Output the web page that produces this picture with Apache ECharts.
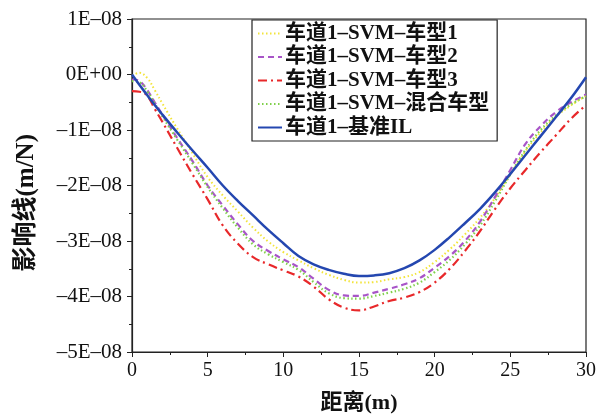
<!DOCTYPE html>
<html>
<head>
<meta charset="utf-8">
<script src="https://cdn.jsdelivr.net/npm/echarts@6/dist/echarts.min.js"></script>
<style>html,body{margin:0;padding:0;background:#fff}#c{width:600px;height:414px}</style>
</head>
<body>
<div id="c"></div>
<script>
// distance along span (m)
const dist = [0,0.5,1,1.5,2,3,4,5,6,7,8,9,10,11,12,13,14,15,16,17,18,19,20,21,22,23,24,25,26,27,28,29,30];
// influence line values, in units of 1E-08 m/N
const svmType1 = [-0.02,0.03,-0.06,-0.28,-0.52,-0.98,-1.42,-1.85,-2.18,-2.47,-2.76,-3.01,-3.20,-3.35,-3.49,-3.61,-3.70,-3.75,-3.74,-3.69,-3.65,-3.56,-3.38,-3.15,-2.88,-2.58,-2.22,-1.80,-1.38,-1.04,-0.76,-0.56,-0.38];
const svmType2 = [-0.09,-0.12,-0.28,-0.50,-0.72,-1.15,-1.56,-2.00,-2.36,-2.70,-3.00,-3.18,-3.33,-3.47,-3.68,-3.88,-3.98,-3.99,-3.93,-3.86,-3.78,-3.67,-3.48,-3.27,-3.00,-2.65,-2.20,-1.72,-1.25,-0.93,-0.68,-0.50,-0.36];
const svmType3 = [-0.30,-0.31,-0.38,-0.62,-0.85,-1.33,-1.80,-2.25,-2.72,-3.05,-3.29,-3.42,-3.53,-3.64,-3.82,-4.05,-4.20,-4.25,-4.18,-4.08,-4.02,-3.92,-3.75,-3.50,-3.18,-2.82,-2.42,-2.05,-1.72,-1.40,-1.10,-0.80,-0.55];
const svmMixed = [-0.12,-0.14,-0.30,-0.52,-0.75,-1.18,-1.60,-2.03,-2.41,-2.76,-3.06,-3.24,-3.38,-3.52,-3.74,-3.94,-4.03,-4.04,-3.99,-3.93,-3.86,-3.75,-3.56,-3.34,-3.06,-2.72,-2.28,-1.80,-1.36,-1.00,-0.74,-0.54,-0.39];
const baseIL  = [0.00,-0.19,-0.37,-0.55,-0.72,-1.05,-1.37,-1.68,-2.00,-2.28,-2.54,-2.80,-3.04,-3.27,-3.42,-3.52,-3.59,-3.63,-3.62,-3.58,-3.49,-3.35,-3.16,-2.93,-2.68,-2.42,-2.12,-1.79,-1.45,-1.11,-0.77,-0.43,-0.05];
const seriesNames = ['车道1–SVM–车型1','车道1–SVM–车型2','车道1–SVM–车型3','车道1–SVM–混合车型','车道1–基准IL'];
const yTickValues = [-5,-4,-3,-2,-1,0,1];
const yTickLabels = ['–5E–08','–4E–08','–3E–08','–2E–08','–1E–08','0E+00','1E–08'];
const xTickValues = [0,5,10,15,20,25,30];
const xTitle = '距离(m)';
const yTitle = '影响线(m/N)';

const pair = arr => dist.map((d,i)=>[d, arr[i]]);
const serif = '"Liberation Serif","Noto Sans CJK SC",serif';
const styles = [
  {color:'#f2e43a', type:[1.5,2.5], width:2},
  {color:'#a855c8', type:[6,4], width:2.2},
  {color:'#e8282a', type:[9,4,2,4], width:2.2},
  {color:'#7fd04a', type:[1.5,2.5], width:2.2},
  {color:'#2447b0', type:'solid', width:2.5}
];
const dataSets = [svmType1, svmType2, svmType3, svmMixed, baseIL];

const chart = echarts.init(document.getElementById('c'), null, {renderer:'canvas'});
chart.setOption({
  animation:false,
  backgroundColor:'#fff',
  grid:{left:132,right:14,top:19,bottom:62,show:true,borderColor:'#222',borderWidth:1.2,
        backgroundColor:'transparent', containLabel:false, outerBoundsMode:'none'},
  legend:{
    orient:'vertical', left:252, top:20,
    backgroundColor:'#fff', borderColor:'#222', borderWidth:1.2,
    padding:[3,8,3,5], itemGap:2.5, itemWidth:24, itemHeight:16,
    itemStyle:{opacity:0},
    textStyle:{fontFamily:serif, fontSize:21, lineHeight:20, fontWeight:'bold', color:'#111', padding:[0,0,0,-2]},
    data:seriesNames
  },
  graphic:[{
    type:'text', left:14, top:134, rotation:Math.PI/2,
    style:{text:yTitle, font:'bold 25px "Liberation Serif","Noto Sans CJK SC",serif', fill:'#111'}
  }],
  xAxis:{
    type:'value', min:0, max:30, interval:5,
    name:xTitle, nameLocation:'middle', nameGap:40,
    nameTextStyle:{fontFamily:serif, fontSize:22, fontWeight:'bold', color:'#111'},
    axisLine:{onZero:false, lineStyle:{color:'#222', width:1.2}},
    axisTick:{show:true, inside:false, length:5, lineStyle:{color:'#222'}},
    minorTick:{show:true, splitNumber:2, length:3, lineStyle:{color:'#222'}},
    axisLabel:{fontFamily:serif, fontSize:20, color:'#111', margin:9,
      formatter:v => xTickValues.includes(v) ? String(v) : ''},
    splitLine:{show:false}
  },
  yAxis:{
    type:'value', min:-5, max:1, interval:1,
    axisLine:{lineStyle:{color:'#222', width:1.2}},
    axisTick:{show:true, inside:false, length:5, lineStyle:{color:'#222'}},
    minorTick:{show:true, splitNumber:2, length:3, lineStyle:{color:'#222'}},
    axisLabel:{fontFamily:serif, fontSize:21, color:'#111', margin:10,
      formatter:v => { const i = yTickValues.indexOf(Math.round(v)); return i>=0 ? yTickLabels[i] : ''; }},
    splitLine:{show:false}
  },
  series: dataSets.map((arr,k)=>({
    name:seriesNames[k], type:'line', data:pair(arr), smooth:0.4,
    symbol:'none', lineStyle:styles[k], itemStyle:{color:styles[k].color},
    z: k===4 ? 3 : 2
  }))
});
</script>
</body>
</html>
